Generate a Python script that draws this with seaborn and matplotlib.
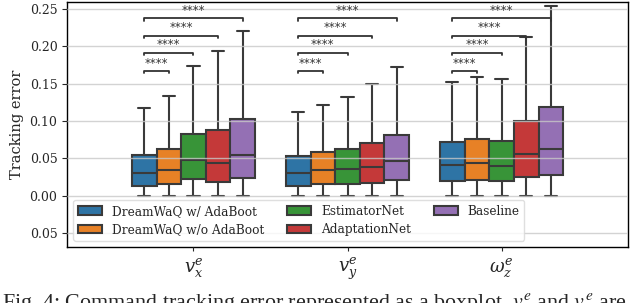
import numpy as np
import pandas as pd
import seaborn as sns
import matplotlib.pyplot as plt
from matplotlib.ticker import FuncFormatter

commands = ["$v_x^e$", "$v_y^e$", r"$\omega_z^e$"]
methods = ["DreamWaQ w/ AdaBoot", "DreamWaQ w/o AdaBoot", "EstimatorNet",
           "AdaptationNet", "Baseline"]
colors = ["#1f77b4", "#ff7f0e", "#2ca02c", "#d62728", "#9467bd"]

# five-number summaries (min, q1, median, q3, max) per command, per method
vx = [[0.0, 0.0134, 0.030, 0.0547, 0.117],
      [0.0, 0.0156, 0.035, 0.0625, 0.133],
      [0.0, 0.0220, 0.048, 0.0830, 0.174],
      [0.0, 0.0187, 0.044, 0.0877, 0.1935],
      [0.0, 0.0239, 0.0547, 0.1024, 0.2205]]
vy = [[0.0, 0.0139, 0.0312, 0.0534, 0.1124],
      [0.0, 0.0160, 0.0347, 0.0586, 0.121],
      [0.0, 0.0160, 0.0356, 0.0625, 0.1324],
      [0.0, 0.0178, 0.0390, 0.0707, 0.1497],
      [0.0, 0.0217, 0.0469, 0.0820, 0.1727]]
wz = [[0.0, 0.0195, 0.0412, 0.0720, 0.152],
      [0.0, 0.0208, 0.0434, 0.0760, 0.1593],
      [0.0, 0.0195, 0.0404, 0.0729, 0.1554],
      [0.0, 0.0252, 0.0556, 0.0994, 0.2127],
      [0.0, 0.0278, 0.0629, 0.1189, 0.254]]

bracket_levels = [0.1667, 0.191, 0.214, 0.237]
star_text = "****"
caption = ("Fig. 4: Command tracking error represented as a boxplot. "
           "$v^e_x$ and $v^e_y$ are")

rows = []
for cmd, summ in zip(commands, [vx, vy, wz]):
    for m, vals in zip(methods, summ):
        for v in vals:
            rows.append((cmd, m, v))
df = pd.DataFrame(rows, columns=["command", "method", "error"])

sns.set_style("ticks")
plt.rcParams["font.family"] = ["DejaVu Serif"]
plt.rcParams["mathtext.fontset"] = "dejavuserif"

fig = plt.figure(figsize=(6.4, 3.03), dpi=100)
ax = fig.add_axes([0.105, 0.185, 0.876, 0.809])

sns.boxplot(data=df, x="command", y="error", hue="method", hue_order=methods,
            palette=colors, whis=(0, 100), showfliers=False, width=0.8,
            linecolor="#3a3a3a", linewidth=1.5, saturation=0.8, ax=ax)

ax.set_ylim(-0.068, 0.259)
ax.set_xlim(-0.82, 2.82)
ax.set_yticks([-0.05, 0, 0.05, 0.10, 0.15, 0.20, 0.25])
ax.yaxis.set_major_formatter(FuncFormatter(lambda v, p: f"{abs(v):.2f}"))
ax.yaxis.grid(True, color="#c8c8c8", linewidth=1, alpha=0.8, zorder=5)
ax.set_axisbelow(False)
ax.tick_params(axis="y", labelsize=9)
ax.tick_params(axis="x", labelsize=13, length=3)
ax.set_xlabel("")
ax.set_ylabel("Tracking error", fontsize=10.5)
for s in ax.spines.values():
    s.set_visible(True)
    s.set_color("black")
    s.set_linewidth(1)

# significance brackets from first method to each of the others
n = len(methods)
step = 0.8 / n
offs = [-0.4 + step * (i + 0.5) for i in range(n)]
tip = 0.003
for ci in range(len(commands)):
    x0 = ci + offs[0]
    for j, lvl in enumerate(bracket_levels):
        x1 = ci + offs[j + 1]
        ax.plot([x0, x0, x1, x1], [lvl - tip, lvl, lvl, lvl - tip],
                color="#333333", lw=1.3, zorder=6)
        ax.text((x0 + x1) / 2, lvl + 0.002, star_text, ha="center", va="bottom",
                fontsize=8.5, color="#333333", family="DejaVu Sans", zorder=6)

h, l = ax.get_legend_handles_labels()
leg = ax.legend(h, l, ncol=3, loc="lower left", fontsize=8.7, frameon=True,
                columnspacing=1.9, handlelength=2.0, labelspacing=0.45,
                borderaxespad=0.5)
leg.get_frame().set_edgecolor("#d8d8d8")
leg.set_zorder(7)

fig.text(0.003, -0.015, caption, family="Liberation Serif", fontsize=15.8,
         math_fontfamily="stix", va="baseline", ha="left")

fig.savefig("out.png", dpi=100)
